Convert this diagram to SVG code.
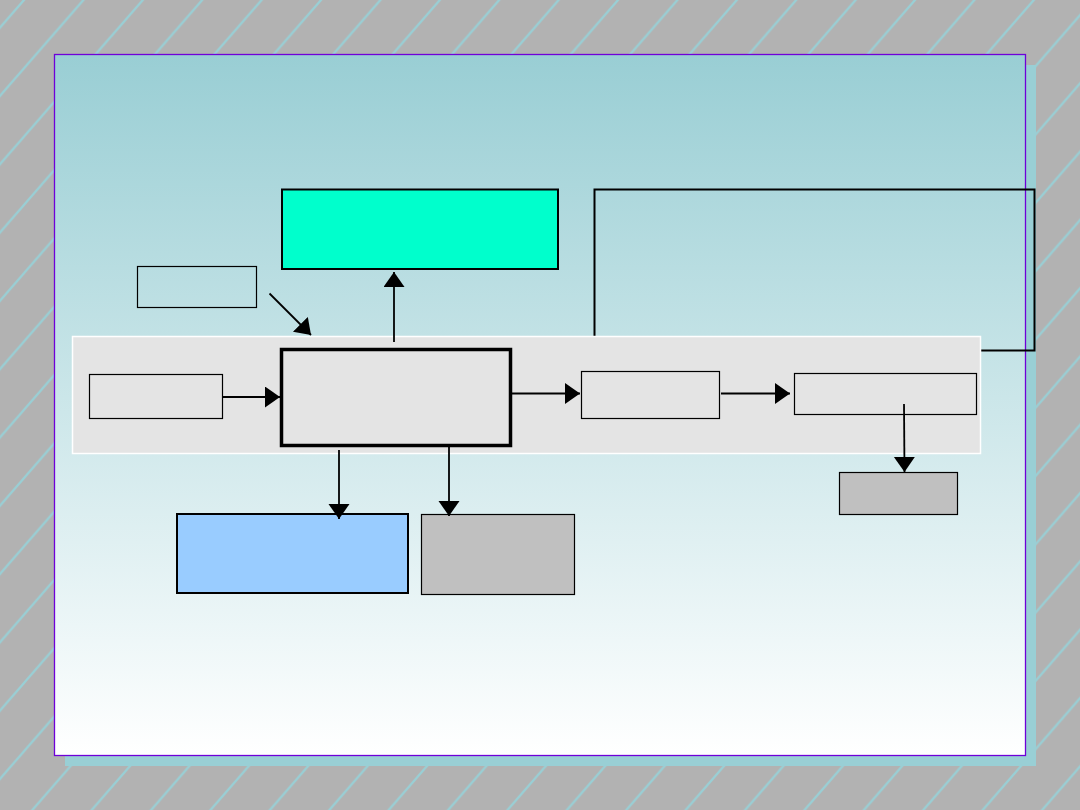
<svg xmlns="http://www.w3.org/2000/svg" width="1080" height="810" viewBox="0 0 1080 810">
  <defs>
    <pattern id="hatch" patternUnits="userSpaceOnUse" x="24" y="0" width="59.4" height="68.3">
      <path d="M0,68.3 L59.4,0 M-10,11.5 L10,-11.5 M49.4,79.8 L69.4,56.8" stroke="#99cfd5" stroke-width="2.2" fill="none"/>
    </pattern>
    <linearGradient id="slideGrad" x1="0" y1="0" x2="0" y2="1">
      <stop offset="0" stop-color="#99ced4"/>
      <stop offset="1" stop-color="#ffffff"/>
    </linearGradient>
    <marker id="arrow" markerUnits="userSpaceOnUse" markerWidth="16" markerHeight="22" refX="15" refY="10.5" orient="auto" viewBox="0 0 16 22">
      <path d="M0,0 L15,10.5 L0,21 z" fill="#000"/>
    </marker>
    <style>
      .box { stroke: #000; stroke-width: 1.2; }
      .thick { stroke: #000; stroke-width: 2; }
      .conn { stroke: #000; stroke-width: 1.8; fill: none; marker-end: url(#arrow); }
    </style>
  </defs>

  <g id="background">
    <rect x="0" y="0" width="1080" height="810" fill="#b2b2b2"/>
    <rect x="0" y="0" width="1080" height="810" fill="url(#hatch)"/>
    <rect x="65" y="65" width="971" height="701" fill="#99cfd5"/>
    <rect x="54.5" y="54.5" width="971" height="701" fill="url(#slideGrad)" stroke="#6f00d8" stroke-width="1.3"/>
  </g>

  <g id="frame">
    <rect x="594.5" y="189.5" width="440" height="161" fill="none" stroke="#000" stroke-width="2"/>
  </g>

  <g id="band">
    <rect x="72.5" y="336.5" width="908" height="117" fill="#e4e4e4" stroke="#ffffff" stroke-width="1.5"/>
  </g>

  <g id="node-top-cyan">
    <rect x="282" y="189.5" width="276" height="79.5" fill="#00ffcc" class="thick"/>
  </g>
  <g id="node-label-box">
    <rect x="137.5" y="266.5" width="119" height="41" fill="none" class="box"/>
  </g>
  <g id="node-input">
    <rect x="89.5" y="374.5" width="133" height="44" fill="#e4e4e4" class="box"/>
  </g>
  <g id="node-center">
    <rect x="281.5" y="349.5" width="229" height="96" fill="#e4e4e4" stroke="#000" stroke-width="3.5"/>
  </g>
  <g id="node-b2">
    <rect x="581.5" y="371.5" width="138" height="47" fill="#e4e4e4" class="box"/>
  </g>
  <g id="node-b3">
    <rect x="794.5" y="373.5" width="182" height="41" fill="#e4e4e4" class="box"/>
  </g>
  <g id="node-b4">
    <rect x="839.5" y="472.5" width="118" height="42" fill="#c0c0c0" class="box"/>
  </g>
  <g id="node-blue">
    <rect x="177" y="514" width="231" height="79" fill="#99ccff" class="thick"/>
  </g>
  <g id="node-gray">
    <rect x="421.5" y="514.5" width="153" height="80" fill="#c0c0c0" class="box"/>
  </g>

  <g id="connectors">
    <line x1="269.5" y1="293.5" x2="311" y2="335" class="conn"/>
    <line x1="223" y1="397" x2="280" y2="397" class="conn"/>
    <line x1="394" y1="342" x2="394" y2="272" class="conn"/>
    <line x1="512" y1="393.5" x2="580" y2="393.5" class="conn"/>
    <line x1="721" y1="393.5" x2="790" y2="393.5" class="conn"/>
    <line x1="904" y1="404" x2="904.5" y2="472" class="conn"/>
    <line x1="339" y1="450" x2="339" y2="519" class="conn"/>
    <line x1="449" y1="447" x2="449" y2="516" class="conn"/>
  </g>
</svg>
